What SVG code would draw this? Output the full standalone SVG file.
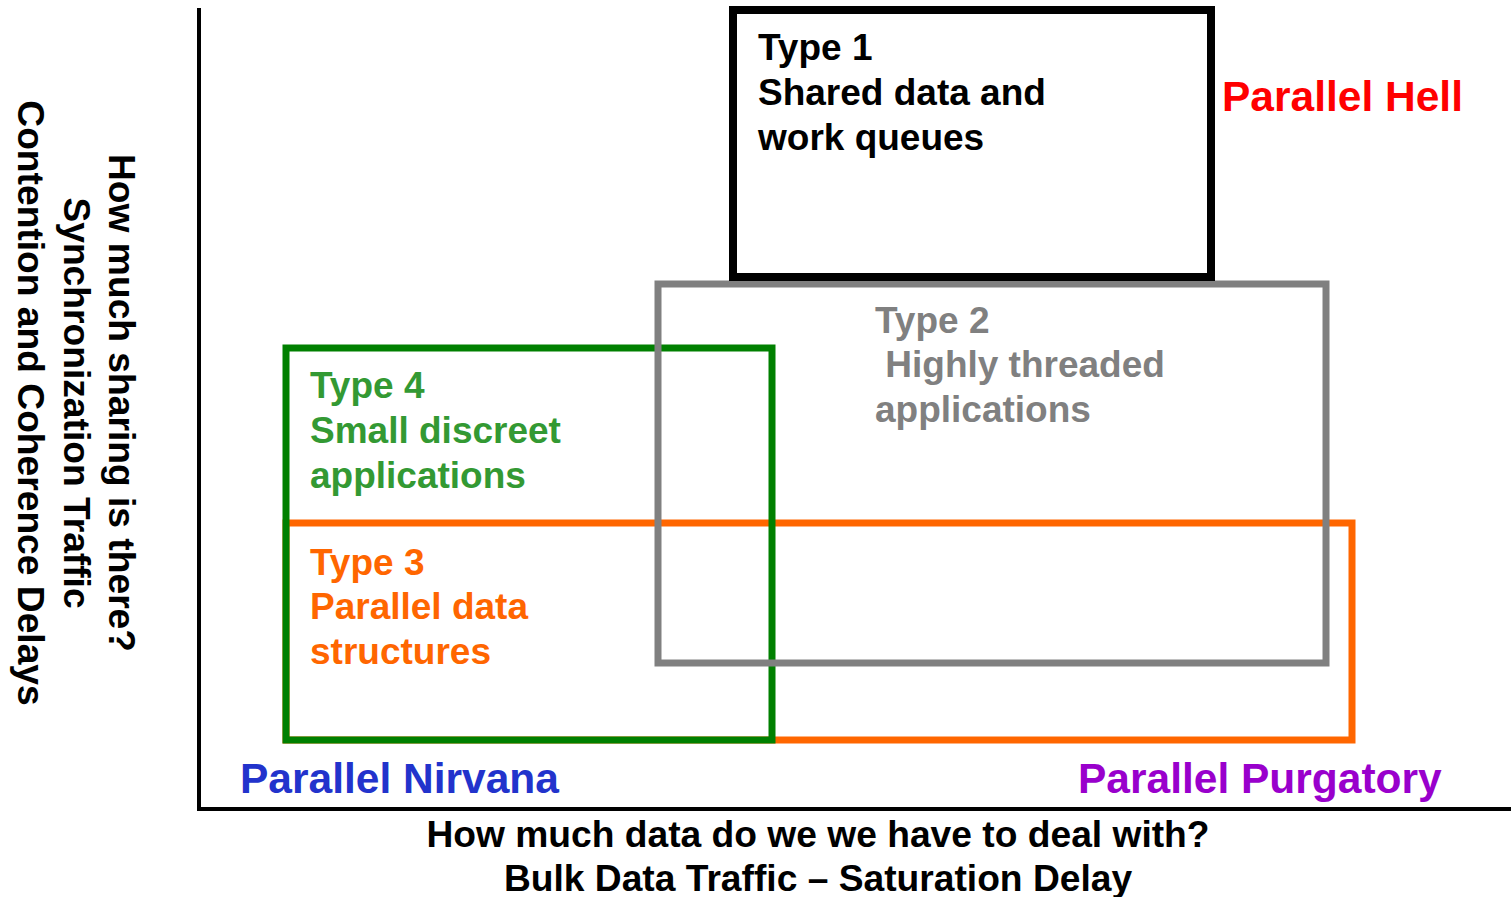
<svg xmlns="http://www.w3.org/2000/svg" width="1511" height="897" viewBox="0 0 1511 897">
<style>
text{font-family:"Liberation Sans",Arial,sans-serif;font-weight:bold;font-size:37px}
.box{fill:none;stroke-width:7}
.big{font-size:42.5px}
.axis{font-size:37.2px}
</style>
<rect width="1511" height="897" fill="#ffffff"/>
<g id="axes" stroke="#000" stroke-width="4">
<line x1="199" y1="8" x2="199" y2="811"/>
<line x1="197" y1="809" x2="1511" y2="809"/>
</g>
<g id="type3">
<rect class="box" x="286" y="523" width="1066" height="217" stroke="#FF6600"/>
<text fill="#FF6600" x="310" y="575">Type 3</text>
<text fill="#FF6600" x="310" y="619">Parallel data</text>
<text fill="#FF6600" x="310" y="664">structures</text>
</g>
<g id="type4">
<rect class="box" x="286" y="348" width="486" height="392" stroke="#008000"/>
<text fill="#339933" x="310" y="398">Type 4</text>
<text fill="#339933" x="310" y="443">Small discreet</text>
<text fill="#339933" x="310" y="488">applications</text>
</g>
<g id="type2">
<rect class="box" x="658" y="284" width="668" height="379" stroke="#808080"/>
<text fill="#808080" x="875" y="333">Type 2</text>
<text fill="#808080" x="875" y="377" xml:space="preserve"> Highly threaded</text>
<text fill="#808080" x="875" y="422">applications</text>
</g>
<g id="type1">
<rect x="733" y="10" width="478" height="267" fill="none" stroke="#000" stroke-width="8"/>
<text fill="#000" x="758" y="60">Type 1</text>
<text fill="#000" x="758" y="105">Shared data and</text>
<text fill="#000" x="758" y="150">work queues</text>
</g>
<g id="labels">
<text class="big" fill="#FF0000" x="1222" y="111">Parallel Hell</text>
<text class="big" fill="#2233CC" x="240" y="793">Parallel Nirvana</text>
<text class="big" fill="#9900CC" x="1078" y="793">Parallel Purgatory</text>
<text class="axis" fill="#000" x="818" y="847" text-anchor="middle">How much data do we we have to deal with?</text>
<text class="axis" fill="#000" x="818" y="891" text-anchor="middle">Bulk Data Traffic – Saturation Delay</text>
<g transform="translate(109,403) rotate(90)">
<text class="axis" fill="#000" x="0" y="0" text-anchor="middle">How much sharing is there?</text>
<text class="axis" fill="#000" x="0" y="45" text-anchor="middle">Synchronization Traffic</text>
<text class="axis" fill="#000" x="0" y="91" text-anchor="middle">Contention and Coherence Delays</text>
</g>
</g>
</svg>
